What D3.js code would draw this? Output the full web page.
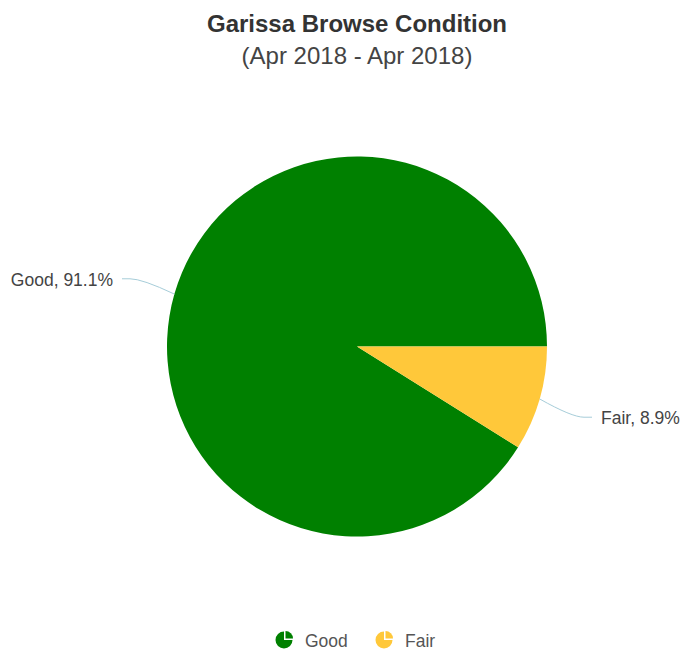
<!DOCTYPE html>
<html>
<head>
<meta charset="utf-8">
<script src="https://cdn.jsdelivr.net/npm/d3@7"></script>
<style>
  html, body { margin: 0; padding: 0; background: #fff; }
  text { font-family: "Liberation Sans", Arial, Helvetica, sans-serif; }
</style>
</head>
<body>
<svg id="chart" width="697" height="651"></svg>
<script>
const categories = ["Good", "Fair"];
const values = [91.1, 8.9];
const colors = ["#008000", "#FFC83A"];
const titleText = "Garissa Browse Condition";
const subtitleText = "(Apr 2018 - Apr 2018)";

const W = 697, H = 651;
const cx = 357, cy = 346.5, R = 190;
const svg = d3.select("#chart");

svg.append("text").attr("x", cx).attr("y", 32).attr("text-anchor", "middle")
  .attr("font-size", 24).attr("font-weight", "bold").attr("fill", "#333").text(titleText);
svg.append("text").attr("x", cx).attr("y", 64).attr("text-anchor", "middle")
  .attr("font-size", 24).attr("fill", "#444").text(subtitleText);

const data = categories.map((c, i) => ({ name: c, value: values[i], color: colors[i] }));
const pie = d3.pie().value(d => d.value).sort(null)
  .startAngle(Math.PI / 2).endAngle(Math.PI / 2 - 2 * Math.PI);
const arcs = pie(data);
const arc = d3.arc().innerRadius(0).outerRadius(R);

const g = svg.append("g").attr("transform", `translate(${cx},${cy})`);
g.selectAll("path.slice").data(arcs).join("path")
  .attr("class", "slice")
  .attr("d", arc)
  .attr("fill", d => d.data.color);

// labels with connectors
const labelGap = 235;
arcs.forEach(a => {
  const mid = (a.startAngle + a.endAngle) / 2;
  const sx = Math.sin(mid), sy = -Math.cos(mid);
  const ex = sx * R, ey = sy * R;
  const side = sx < 0 ? -1 : 1;
  const ly = sy * (R + 26) - 8 * (sy < 0 ? 0 : -1) ;
  const lyy = (sy * (R + 30)) - (side < 0 ? 7 : -10);
  const lx = side * labelGap;
  const elbowX = side * (labelGap - 8);
  g.append("path")
    .attr("d", `M${lx},${lyy} L${elbowX},${lyy} Q${elbowX - side * 12},${lyy} ${ex},${ey}`)
    .attr("fill", "none").attr("stroke", "#a6cdd9").attr("stroke-width", 1);
  g.append("text")
    .attr("x", lx + side * 9).attr("y", lyy + 7)
    .attr("text-anchor", side < 0 ? "end" : "start")
    .attr("font-size", 17.5).attr("fill", "#444")
    .text(`${a.data.name}, ${a.data.value}%`);
});

// legend
const legendX = [284, 384];
const iconArc = d3.arc().innerRadius(0).outerRadius(8.5);
data.forEach((d, i) => {
  const lg = svg.append("g").attr("transform", `translate(${legendX[i]},${640})`);
  lg.append("path").attr("d", iconArc({ startAngle: Math.PI / 2, endAngle: 2 * Math.PI })).attr("fill", d.color);
  lg.append("path").attr("transform", "translate(1.5,-1.5)")
    .attr("d", d3.arc().innerRadius(0).outerRadius(7.5)({ startAngle: 0, endAngle: Math.PI / 2 })).attr("fill", d.color);
  lg.append("text").attr("x", 21).attr("y", 6.5).attr("font-size", 17.5).attr("fill", "#555").text(d.name);
});
</script>
</body>
</html>
